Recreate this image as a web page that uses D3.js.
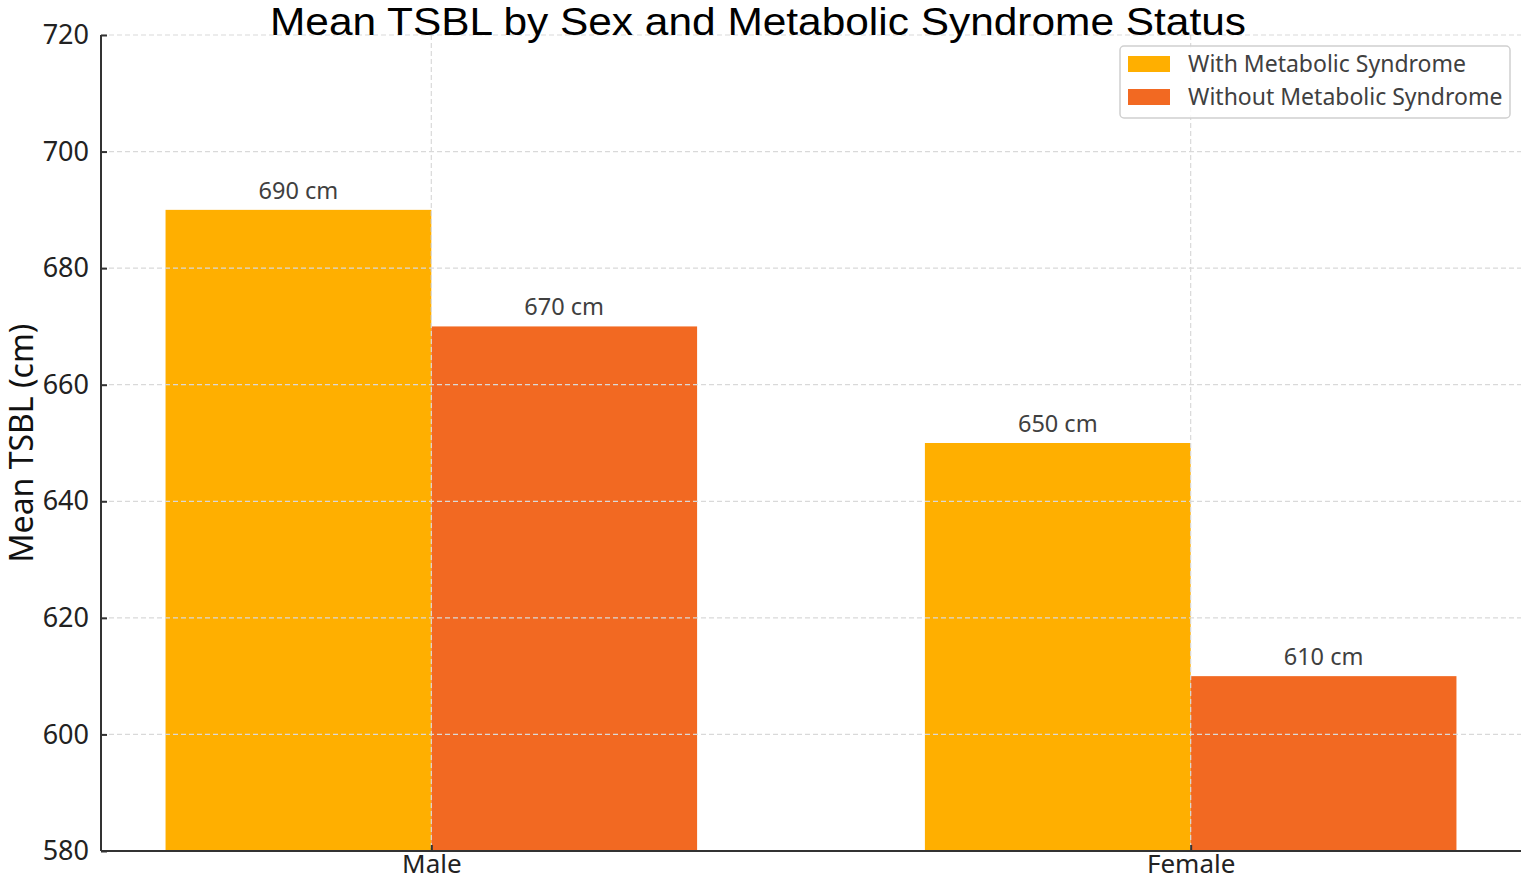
<!DOCTYPE html>
<html><head><meta charset="utf-8">
<script src="https://cdn.jsdelivr.net/npm/d3@7"></script>
<style>body{margin:0;background:#fff}svg{display:block}</style>
</head><body>
<svg id="c" width="1524" height="881"></svg>
<script>
const categories = ["Male", "Female"];
const seriesNames = ["With Metabolic Syndrome", "Without Metabolic Syndrome"];
const withMS = [690, 650];
const withoutMS = [670, 610];
const yTicks = [580, 600, 620, 640, 660, 680, 700, 720];
const colors = ["#FFAF00", "#F26922"];

const svg = d3.select("#c");
const L = 101, R = 1521, T = 35, B = 851;
const x = d3.scaleLinear().domain([-0.435, 1.435]).range([L, R]);
const y = d3.scaleLinear().domain([580, 720]).range([B, T]);
const bw = 0.35;

const gridStyle = sel => sel.attr("stroke", "#d9d9d9").attr("stroke-width", 1.2).attr("stroke-dasharray", "5,3");

const series = [withMS, withoutMS];
series.forEach((vals, s) => {
  const off = s === 0 ? -bw : 0;
  svg.append("g").selectAll("rect").data(vals).join("rect")
    .attr("x", (d, i) => x(i + off)).attr("width", x(bw) - x(0))
    .attr("y", d => y(d)).attr("height", d => B - y(d))
    .attr("fill", colors[s]);
  svg.append("g").selectAll("text").data(vals).join("text")
    .attr("x", (d, i) => x(i + off + bw / 2)).attr("y", d => y(d) - 11)
    .attr("text-anchor", "middle").attr("font-family", "Noto Sans, sans-serif")
    .attr("font-size", 23.5).attr("fill", "#404040").text(d => d + " cm");
});

// grid
const g = svg.append("g");
g.selectAll(".hg").data(yTicks).join("line")
  .attr("x1", L).attr("x2", R).attr("y1", d => y(d)).attr("y2", d => y(d)).call(gridStyle);
g.selectAll(".vg").data(categories).join("line")
  .attr("x1", (d, i) => x(i)).attr("x2", (d, i) => x(i)).attr("y1", T).attr("y2", B).call(gridStyle);

// axes
const yAxis = d3.axisLeft(y).tickValues(yTicks).tickSize(-6).tickPadding(12).tickFormat(d3.format("d"));
const ya = svg.append("g").attr("transform", `translate(${L},0)`).call(yAxis);
const xAxis = d3.axisBottom(x).tickValues([0, 1]).tickSize(-6).tickPadding(4).tickFormat((d) => categories[d]);
const xa = svg.append("g").attr("transform", `translate(0,${B})`).call(xAxis);
[ya, xa].forEach(a => {
  a.select(".domain").attr("stroke", "#333").attr("stroke-width", 2);
  a.selectAll(".tick line").attr("stroke", "#333").attr("stroke-width", 2);
  a.selectAll("text").attr("font-family", "Noto Sans, sans-serif").attr("font-size", 27).attr("fill", "#222");
});
xa.selectAll("text").attr("font-size", 26);
ya.select(".domain").attr("d", `M0,${B}V${T}`);
xa.select(".domain").attr("d", `M${L},0H${R}`);

// y label
svg.append("text").attr("transform", `translate(33,${(T + B) / 2}) rotate(-90)`)
  .attr("text-anchor", "middle").attr("font-family", "Noto Sans, sans-serif")
  .attr("font-size", 32).attr("fill", "#111").text("Mean TSBL (cm)");

// title
svg.append("text").attr("x", 758).attr("y", 35).attr("text-anchor", "middle")
  .attr("font-family", "Liberation Sans Narrow, Liberation Sans, sans-serif").attr("font-size", 38)
  .attr("textLength", 976).attr("lengthAdjust", "spacingAndGlyphs")
  .attr("fill", "#000").text("Mean TSBL by Sex and Metabolic Syndrome Status");

// legend
const lg = svg.append("g");
lg.append("rect").attr("x", 1120).attr("y", 46).attr("width", 390).attr("height", 72).attr("rx", 4)
  .attr("fill", "#fff").attr("fill-opacity", 0.85).attr("stroke", "#d0d0d0").attr("stroke-width", 1.5);
seriesNames.forEach((n, i) => {
  lg.append("rect").attr("x", 1128).attr("y", 56 + i * 33).attr("width", 42).attr("height", 16).attr("fill", colors[i]);
  lg.append("text").attr("x", 1188).attr("y", 72 + i * 33).attr("font-family", "Noto Sans, sans-serif")
    .attr("font-size", 23).attr("fill", "#404040").text(n);
});
</script>
</body></html>
